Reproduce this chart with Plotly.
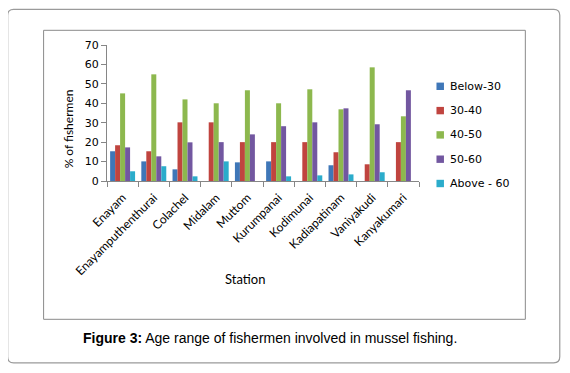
import plotly.graph_objects as go

stations = ["Enayam", "Enayamputhenthurai", "Colachel", "Midalam", "Muttom",
            "Kurumpanai", "Kodimunai", "Kadiapatinam", "Vaniyakudi", "Kanyakumari"]
below_30 = [15.3, 10.1, 6.0, 0, 9.6, 10.1, 0, 8.1, 0, 0]
age_30_40 = [18.4, 15.3, 30.2, 30.2, 20, 20, 20, 14.8, 8.6, 20]
age_40_50 = [45.1, 54.9, 42, 40, 46.7, 40, 47.2, 36.9, 58.5, 33.3]
age_50_60 = [17.3, 12.7, 19.9, 20, 24, 28.2, 30.2, 37.4, 29.2, 46.7]
above_60 = [5, 7.6, 2.4, 10.1, 0, 2.4, 2.9, 3.4, 4.5, 0]
series_names = ["Below-30", "30-40", "40-50", "50-60", "Above - 60"]
series_values = [below_30, age_30_40, age_40_50, age_50_60, above_60]
colors = ["#3F77B8", "#C0443F", "#8DB84E", "#7257A0", "#2BACCB"]
y_ticks = [0, 10, 20, 30, 40, 50, 60, 70]

OFF = 8  # page body margin
W, H = 570 - OFF, 373 - OFF
L, R, T, B = 107 - OFF, 419.5 - OFF, 44.7 - OFF, 180.7 - OFF  # plot area in figure pixels


def px(x):
    return (x - OFF - L) / (R - L)


def py(y):
    return (B - (y - OFF)) / (B - T)


fig = go.Figure()
for name, vals, col in zip(series_names, series_values, colors):
    fig.add_trace(go.Bar(x=stations, y=vals, name=name, marker=dict(color=col, line=dict(width=0)),
                         showlegend=False))

# outer rounded frame
r = 6
x0, x1, y0, y1 = 7.5, 560.5, 9, 362.5
path = (f"M {px(x0+r)},{py(y0)} L {px(x1-r)},{py(y0)} Q {px(x1)},{py(y0)} {px(x1)},{py(y0+r)} "
        f"L {px(x1)},{py(y1-r)} Q {px(x1)},{py(y1)} {px(x1-r)},{py(y1)} "
        f"L {px(x0+r)},{py(y1)} Q {px(x0)},{py(y1)} {px(x0)},{py(y1-r)} "
        f"L {px(x0)},{py(y0+r)} Q {px(x0)},{py(y0)} {px(x0+r)},{py(y0)} Z")
shapes = [
    dict(type="path", xref="paper", yref="paper", path=path,
         line=dict(color="#9a9a9a", width=1.2), layer="below"),
    dict(type="rect", xref="paper", yref="paper", x0=px(43.5), x1=px(526), y0=py(30), y1=py(319),
         line=dict(color="#8a8a8a", width=1), layer="below"),
]

annotations = [
    dict(text="Station", xref="paper", yref="paper", x=px(245), y=py(279), showarrow=False,
         font=dict(family="Lato", size=13, color="#000"), xanchor="center", yanchor="middle"),
    dict(text="% of fishermen", xref="paper", yref="paper", x=px(68), y=py(129), showarrow=False,
         textangle=-90, font=dict(family="Lato", size=12, color="#000"),
         xanchor="center", yanchor="middle"),
    dict(text="<b>Figure 3:</b> Age range of fishermen involved in mussel fishing.",
         xref="paper", yref="paper", x=px(81), y=py(338), showarrow=False,
         font=dict(family="Liberation Sans", size=14, color="#000"), xanchor="left", yanchor="middle"),
]

# manual legend
leg_y0, leg_dy = 86, 24.3
for i, (name, col) in enumerate(zip(series_names, colors)):
    cy = leg_y0 + i * leg_dy
    shapes.append(dict(type="rect", xref="paper", yref="paper",
                       x0=px(437), x1=px(444.5), y0=py(cy - 3.7), y1=py(cy + 3.7),
                       fillcolor=col, line=dict(width=0)))
    annotations.append(dict(text=name, xref="paper", yref="paper", x=px(448.5), y=py(cy),
                            showarrow=False, xanchor="left", yanchor="middle",
                            font=dict(family="DejaVu Sans", size=11, color="#000")))

fig.update_layout(
    width=W, height=H,
    margin=dict(l=L, r=W - R, t=T, b=H - B, pad=0),
    paper_bgcolor="white", plot_bgcolor="white",
    barmode="group", bargap=0.2, bargroupgap=0,
    showlegend=False,
    shapes=shapes, annotations=annotations,
    xaxis=dict(type="category", showline=True, linecolor="#868686", linewidth=1,
               ticks="outside", tickson="boundaries", ticklen=5, tickcolor="#868686",
               tickangle=-45, tickfont=dict(family="Lato", size=12, color="#000"),
               ticklabelstandoff=4,
               showgrid=False, zeroline=False),
    yaxis=dict(range=[0, 70], tickvals=y_ticks, showline=True, linecolor="#868686", linewidth=1,
               ticks="outside", ticklen=5, tickcolor="#868686",
               tickfont=dict(family="DejaVu Sans", size=11, color="#000"),
               showgrid=False, zeroline=False),
)
fig.write_html("out.html")
